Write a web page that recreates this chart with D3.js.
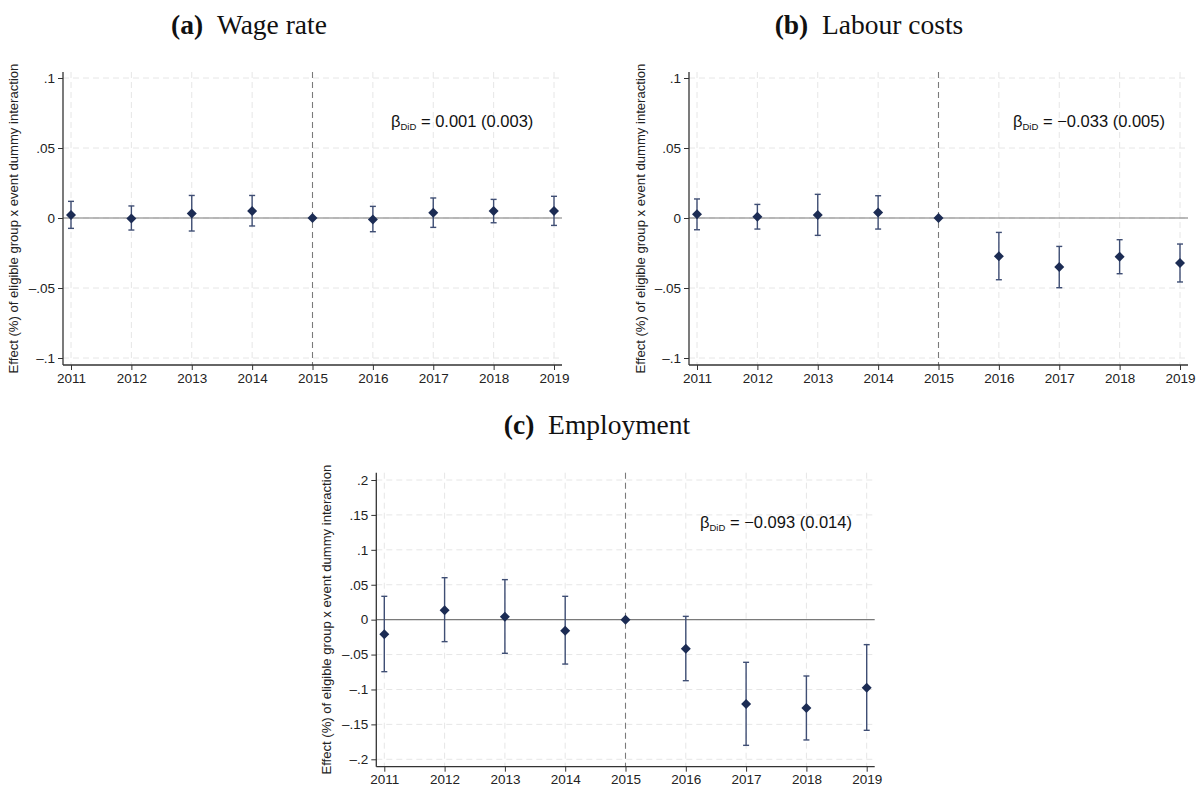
<!DOCTYPE html>
<html>
<head>
<meta charset="utf-8">
<script src="https://cdn.jsdelivr.net/npm/d3@7"></script>
<style>
  body { margin: 0; background: #fff; }
  svg { display: block; }
</style>
</head>
<body>
<svg id="chart" width="1203" height="789"></svg>
<script>
// event years
const years = [2011, 2012, 2013, 2014, 2015, 2016, 2017, 2018, 2019]

// (a) wage rate
const wageCoef = [0.0021, -0.0003, 0.0033, 0.0050, 0, -0.0010, 0.0038, 0.0050, 0.0050]
const wageLow = [-0.0074, -0.0086, -0.0093, -0.0057, 0, -0.0098, -0.0067, -0.0034, -0.0053]
const wageHigh = [0.0119, 0.0086, 0.0161, 0.0161, 0, 0.0083, 0.0143, 0.0133, 0.0155]

// (b) labour costs
const costCoef = [0.0026, 0.0009, 0.0021, 0.0040, 0, -0.0274, -0.0350, -0.0276, -0.0321]
const costLow = [-0.0084, -0.0079, -0.0124, -0.0079, 0, -0.0441, -0.0498, -0.0398, -0.0457]
const costHigh = [0.0136, 0.0097, 0.0169, 0.0159, 0, -0.0103, -0.0203, -0.0155, -0.0186]

// (c) employment
const empCoef = [-0.0210, 0.0133, 0.0043, -0.0158, 0, -0.0415, -0.1208, -0.1265, -0.0974]
const empLow = [-0.0745, -0.0315, -0.0482, -0.0636, 0, -0.0874, -0.1800, -0.1723, -0.1585]
const empHigh = [0.0334, 0.0601, 0.0573, 0.0334, 0, 0.0047, -0.0611, -0.0807, -0.0358]

// y ticks per panel
const ticksSmall = [-0.1, -0.05, 0, 0.05, 0.1]
const ticksLarge = [-0.2, -0.15, -0.1, -0.05, 0, 0.05, 0.1, 0.15, 0.2]

const eventYear = 2015
const yTitle = 'Effect (%) of eligible group x event dummy interaction'

const svg = d3.select('#chart')

// stata style tick labels: .05, –.1, 0
function stataFmt(v) {
  if (Math.abs(v) < 1e-9) return '0'
  const s = String(+Math.abs(v).toFixed(3)).replace(/^0/, '')
  return (v < 0 ? '\u2013' : '') + s
}

function drawPanel(cfg) {
  const g = svg.append('g')

  const x = d3.scaleLinear().domain([2011, 2019]).range([cfg.x0, cfg.x1])
  const y = d3.scaleLinear().domain(cfg.yDomain).range(cfg.yRange)

  const left = cfg.x0 - 8
  const right = cfg.x1 + 8
  const top = cfg.top
  const bottom = cfg.bottom

  // grid
  g.selectAll('.hgrid').data(cfg.ticks).join('line')
    .attr('x1', left).attr('x2', right)
    .attr('y1', d => y(d)).attr('y2', d => y(d))
    .attr('stroke', '#e6e6e6').attr('stroke-dasharray', '6,4')
  g.selectAll('.vgrid').data(years).join('line')
    .attr('x1', d => x(d)).attr('x2', d => x(d))
    .attr('y1', top).attr('y2', bottom)
    .attr('stroke', '#e6e6e6').attr('stroke-dasharray', '6,4')

  // zero line and event line
  g.append('line')
    .attr('x1', left).attr('x2', right)
    .attr('y1', y(0)).attr('y2', y(0))
    .attr('stroke', '#7a7a7a').attr('stroke-width', 1.1)
  g.append('line')
    .attr('x1', x(eventYear)).attr('x2', x(eventYear))
    .attr('y1', top).attr('y2', bottom)
    .attr('stroke', '#7a7a7a').attr('stroke-width', 1.1)
    .attr('stroke-dasharray', '6,4')

  // axes
  const yAxis = g.append('g')
    .attr('transform', `translate(${left},0)`)
    .call(d3.axisLeft(y).tickValues(cfg.ticks).tickFormat(stataFmt).tickSize(5).tickPadding(3))
  yAxis.select('.domain').attr('d', `M0,${top}V${bottom}`)
  const xAxis = g.append('g')
    .attr('transform', `translate(0,${bottom})`)
    .call(d3.axisBottom(x).tickValues(years).tickFormat(d3.format('d')).tickSize(5).tickPadding(3))
  xAxis.select('.domain').attr('d', `M${left},0H${right}`)
  g.selectAll('.domain').attr('stroke', '#333').attr('stroke-width', 1.3)
  g.selectAll('.tick line').attr('stroke', '#333')
  g.selectAll('.tick text')
    .attr('font-family', 'Liberation Sans, Arial, sans-serif')
    .attr('font-size', 13.5).attr('fill', '#222')

  // y title
  g.append('text')
    .attr('transform', `translate(${cfg.titleX},${(top + bottom) / 2}) rotate(-90)`)
    .attr('text-anchor', 'middle')
    .attr('dominant-baseline', 'middle')
    .attr('font-family', 'Liberation Sans, Arial, sans-serif')
    .attr('font-size', 13.1).attr('fill', '#222')
    .text(yTitle)

  // error bars
  const rows = years.map((yr, i) => ({ yr, c: cfg.coef[i], lo: cfg.low[i], hi: cfg.high[i] }))
  const bars = g.selectAll('.bar').data(rows.filter(d => d.lo !== d.hi)).join('g')
  bars.append('line')
    .attr('x1', d => x(d.yr)).attr('x2', d => x(d.yr))
    .attr('y1', d => y(d.lo)).attr('y2', d => y(d.hi))
    .attr('stroke', '#3f4e74').attr('stroke-width', 1.4)
  bars.append('line')
    .attr('x1', d => x(d.yr) - 3).attr('x2', d => x(d.yr) + 3)
    .attr('y1', d => y(d.lo)).attr('y2', d => y(d.lo))
    .attr('stroke', '#3f4e74').attr('stroke-width', 1.4)
  bars.append('line')
    .attr('x1', d => x(d.yr) - 3).attr('x2', d => x(d.yr) + 3)
    .attr('y1', d => y(d.hi)).attr('y2', d => y(d.hi))
    .attr('stroke', '#3f4e74').attr('stroke-width', 1.4)

  // diamond markers
  const r = 5
  g.selectAll('.pt').data(rows).join('path')
    .attr('d', d => {
      const cx = x(d.yr), cy = y(d.c)
      return `M${cx},${cy - r}L${cx + r},${cy}L${cx},${cy + r}L${cx - r},${cy}Z`
    })
    .attr('fill', '#1c2c54')

  // beta annotation
  const ann = g.append('text')
    .attr('x', cfg.annX).attr('y', cfg.annY)
    .attr('font-family', 'Liberation Sans, Arial, sans-serif')
    .attr('font-size', 16.5).attr('fill', '#111')
  ann.append('tspan').text('\u03b2')
  ann.append('tspan').attr('font-size', 9.5).attr('dy', 3).text('DiD')
  ann.append('tspan').attr('dy', -3).text(' = ' + cfg.annText)

  // panel caption
  const cap = svg.append('text')
    .attr('x', cfg.capX).attr('y', cfg.capY)
    .attr('text-anchor', 'middle')
    .attr('font-family', 'Liberation Serif, Times New Roman, serif')
    .attr('font-size', 27.5).attr('fill', '#111')
  cap.append('tspan').attr('font-weight', 'bold').text(cfg.capLabel)
  cap.append('tspan').text('\u2002' + cfg.capText)
}

drawPanel({
  coef: wageCoef, low: wageLow, high: wageHigh, ticks: ticksSmall,
  x0: 71, x1: 554, yDomain: [-0.1, 0.1], yRange: [358, 78], top: 72, bottom: 365,
  titleX: 15, annX: 391, annY: 127, annText: '0.001 (0.003)',
  capX: 249, capY: 34, capLabel: '(a)', capText: 'Wage rate'
})

drawPanel({
  coef: costCoef, low: costLow, high: costHigh, ticks: ticksSmall,
  x0: 697, x1: 1180, yDomain: [-0.1, 0.1], yRange: [358, 78], top: 72, bottom: 365,
  titleX: 642, annX: 1013, annY: 127, annText: '\u22120.033 (0.005)',
  capX: 869, capY: 34, capLabel: '(b)', capText: 'Labour costs'
})

drawPanel({
  coef: empCoef, low: empLow, high: empHigh, ticks: ticksLarge,
  x0: 384.3, x1: 866.7, yDomain: [-0.2, 0.2], yRange: [759.3, 480], top: 472.7, bottom: 766.7,
  titleX: 328, annX: 700, annY: 528, annText: '\u22120.093 (0.014)',
  capX: 597, capY: 434, capLabel: '(c)', capText: 'Employment'
})
</script>
</body>
</html>
